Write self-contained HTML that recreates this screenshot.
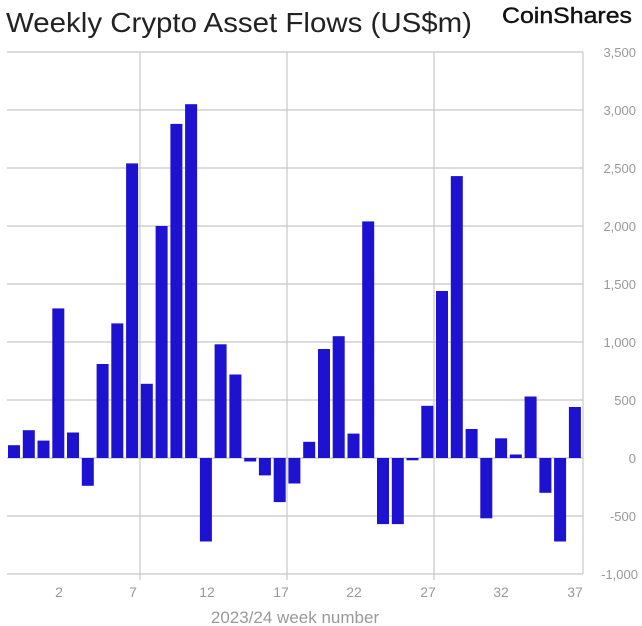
<!DOCTYPE html><html><head><meta charset="utf-8"><style>body{margin:0;background:#fff}svg{display:block}</style></head><body>
<svg width="642" height="626" xmlns="http://www.w3.org/2000/svg" font-family="Liberation Sans, sans-serif">
<text x="6" y="32" font-size="28" fill="#222" textLength="466" lengthAdjust="spacingAndGlyphs">Weekly Crypto Asset Flows (US$m)</text>
<text x="502" y="23" font-size="22" fill="#111" textLength="130" lengthAdjust="spacingAndGlyphs" stroke="#111" stroke-width="0.4">CoinShares</text>
<g stroke="#c8c8c8" stroke-width="1.2" fill="none">
<line x1="7" y1="52" x2="583" y2="52"/><line x1="7" y1="110" x2="583" y2="110"/><line x1="7" y1="168" x2="583" y2="168"/><line x1="7" y1="226" x2="583" y2="226"/><line x1="7" y1="284" x2="583" y2="284"/><line x1="7" y1="342" x2="583" y2="342"/><line x1="7" y1="400" x2="583" y2="400"/><line x1="7" y1="458" x2="583" y2="458"/><line x1="7" y1="516" x2="583" y2="516"/><line x1="7" y1="574" x2="583" y2="574"/>
<line x1="140" y1="52" x2="140" y2="580"/><line x1="287" y1="52" x2="287" y2="580"/><line x1="434" y1="52" x2="434" y2="580"/><line x1="583" y1="52" x2="583" y2="574"/>
</g>
<g fill="#1c12d0">
<rect x="8" y="445.2" width="12" height="12.8"/>
<rect x="22.8" y="430.2" width="12" height="27.8"/>
<rect x="37.5" y="440.6" width="12" height="17.4"/>
<rect x="52.3" y="308.4" width="12" height="149.6"/>
<rect x="67" y="432.5" width="12" height="25.5"/>
<rect x="81.8" y="458" width="12" height="27.8"/>
<rect x="96.6" y="364" width="12" height="94"/>
<rect x="111.3" y="323.4" width="12" height="134.6"/>
<rect x="126.1" y="163.4" width="12" height="294.6"/>
<rect x="140.8" y="383.8" width="12" height="74.2"/>
<rect x="155.6" y="226" width="12" height="232"/>
<rect x="170.4" y="123.9" width="12" height="334.1"/>
<rect x="185.1" y="104.2" width="12" height="353.8"/>
<rect x="199.9" y="458" width="12" height="83.5"/>
<rect x="214.6" y="344.3" width="12" height="113.7"/>
<rect x="229.4" y="374.5" width="12" height="83.5"/>
<rect x="244.2" y="458" width="12" height="3.5"/>
<rect x="258.9" y="458" width="12" height="17.4"/>
<rect x="273.7" y="458" width="12" height="44.1"/>
<rect x="288.4" y="458" width="12" height="25.5"/>
<rect x="303.2" y="441.8" width="12" height="16.2"/>
<rect x="318" y="349" width="12" height="109"/>
<rect x="332.7" y="336.2" width="12" height="121.8"/>
<rect x="347.5" y="433.6" width="12" height="24.4"/>
<rect x="362.2" y="221.4" width="12" height="236.6"/>
<rect x="377" y="458" width="12" height="66.1"/>
<rect x="391.8" y="458" width="12" height="66.1"/>
<rect x="406.5" y="458" width="12" height="2.3"/>
<rect x="421.3" y="405.8" width="12" height="52.2"/>
<rect x="436" y="291" width="12" height="167"/>
<rect x="450.8" y="176.1" width="12" height="281.9"/>
<rect x="465.6" y="429" width="12" height="29"/>
<rect x="480.3" y="458" width="12" height="60.3"/>
<rect x="495.1" y="438.3" width="12" height="19.7"/>
<rect x="509.8" y="454.5" width="12" height="3.5"/>
<rect x="524.6" y="396.5" width="12" height="61.5"/>
<rect x="539.4" y="458" width="12" height="34.8"/>
<rect x="554.1" y="458" width="12" height="83.5"/>
<rect x="568.9" y="407" width="12" height="51"/>
</g>
<g font-size="13" fill="#999" text-anchor="end">
<text x="636" y="57">3,500</text><text x="636" y="115">3,000</text><text x="636" y="173">2,500</text><text x="636" y="231">2,000</text><text x="636" y="289">1,500</text><text x="636" y="347">1,000</text><text x="636" y="405">500</text><text x="636" y="463">0</text><text x="636" y="521">-500</text><text x="638" y="579">-1,000</text>
</g>
<g font-size="14" fill="#999" text-anchor="middle">
<text x="59" y="597">2</text><text x="133" y="597">7</text><text x="207" y="597">12</text><text x="281" y="597">17</text><text x="354" y="597">22</text><text x="428" y="597">27</text><text x="501" y="597">32</text><text x="575" y="597">37</text>
<text x="295" y="623" font-size="17">2023/24 week number</text>
</g>
</svg></body></html>
